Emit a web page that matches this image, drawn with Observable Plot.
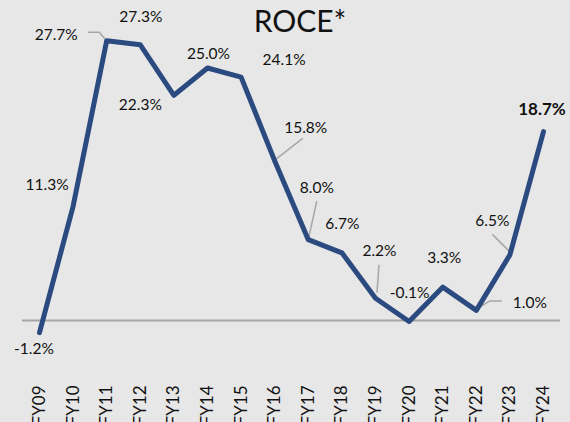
<!DOCTYPE html>
<html><head><meta charset="utf-8">
<script src="https://cdn.jsdelivr.net/npm/d3@7"></script>
<script src="https://cdn.jsdelivr.net/npm/@observablehq/plot@0.6"></script>
<style>
html,body{margin:0;padding:0;background:#e7e7e7;}
#chart{width:570px;height:422px;overflow:hidden;position:relative;}
</style></head><body><div id="chart"></div>
<script>
const title = "ROCE*";
const years = ["FY09","FY10","FY11","FY12","FY13","FY14","FY15","FY16","FY17","FY18","FY19","FY20","FY21","FY22","FY23","FY24"];
const roce = [-1.2, 11.3, 27.7, 27.3, 22.3, 25.0, 24.1, 15.8, 8.0, 6.7, 2.2, -0.1, 3.3, 1.0, 6.5, 18.7];
const labels = roce.map(v => v.toFixed(1) + "%");

// layout only: label offsets (px) and leader-line vertex offsets (px) relative to each point
const labelOffsets = [[-5.5,16],[-26,-21],[-50.5,-6],[0.5,-28],[-33.5,10],[1,-13.5],[43,-16.6],[31,-33],[8.5,-51.6],[0.5,-29],[4,-47.6],[0.5,-28],[1.5,-29],[53.5,-7],[-17.5,-34],[-1.5,-21.6]];
const leaderOffsets = {
  2: [[-18,-8],[-7,-8],[-1,-1]],
  7: [[28.5,-22],[1.5,-1]],
  8: [[9,-38],[1,-2]],
  10: [[4,-33],[2,-5]],
  13: [[26,-9],[14,-9],[1,-1]],
  14: [[-17,-20],[0,-3]]
};

const data = years.map((y, i) => ({year: y, value: roce[i], label: labels[i], i}));
const lineColor = "#2b4a80";

const leaderMark = (index, scales) => {
  const g = d3.create("svg:g");
  for (const [k, offs] of Object.entries(leaderOffsets)) {
    const px = scales.x(years[k]), py = scales.y(roce[k]);
    g.append("polyline")
      .attr("points", offs.map(([dx, dy]) => `${px+dx},${py+dy}`).join(" "))
      .attr("fill", "none").attr("stroke", "#a6a6a6").attr("stroke-width", 1.5);
  }
  return g.node();
};

const textMarks = data.map((d, i) => Plot.text([d], {
  x: "year", y: "value", text: "label",
  dx: labelOffsets[i][0], dy: labelOffsets[i][1],
  fontSize: i === data.length - 1 ? 17 : 15.5,
  fontWeight: i === data.length - 1 ? "bold" : "normal",
  fill: "#111"
}));

const chart = Plot.plot({
  width: 570, height: 422,
  marginLeft: 22, marginRight: 10, marginTop: 17, marginBottom: 47,
  style: {background: "#e7e7e7", fontFamily: "Lato, 'Open Sans', sans-serif", color: "#111"},
  x: {type: "point", domain: years, range: [39, 543], padding: 0, round: false, axis: null, label: null},
  y: {domain: [-5.446, 30], axis: null},
  marks: [
    Plot.ruleY([0], {stroke: "#a6a6a6", strokeWidth: 2}),
    leaderMark,
    Plot.line(data, {x: "year", y: "value", stroke: lineColor, strokeWidth: 5, strokeLinejoin: "round", strokeLinecap: "round"}),
    ...textMarks,
    Plot.axisX({tickSize: 0, tickRotate: -90, tickPadding: 10, fontSize: 17, fill: "#111", label: null})
  ]
});
document.getElementById("chart").appendChild(chart);
d3.select(chart).append("text")
  .attr("x", 300).attr("y", 32)
  .attr("text-anchor", "middle")
  .attr("font-size", 30).attr("font-family", "Lato, 'Open Sans', sans-serif")
  .attr("fill", "#111")
  .text(title);
</script></body></html>
